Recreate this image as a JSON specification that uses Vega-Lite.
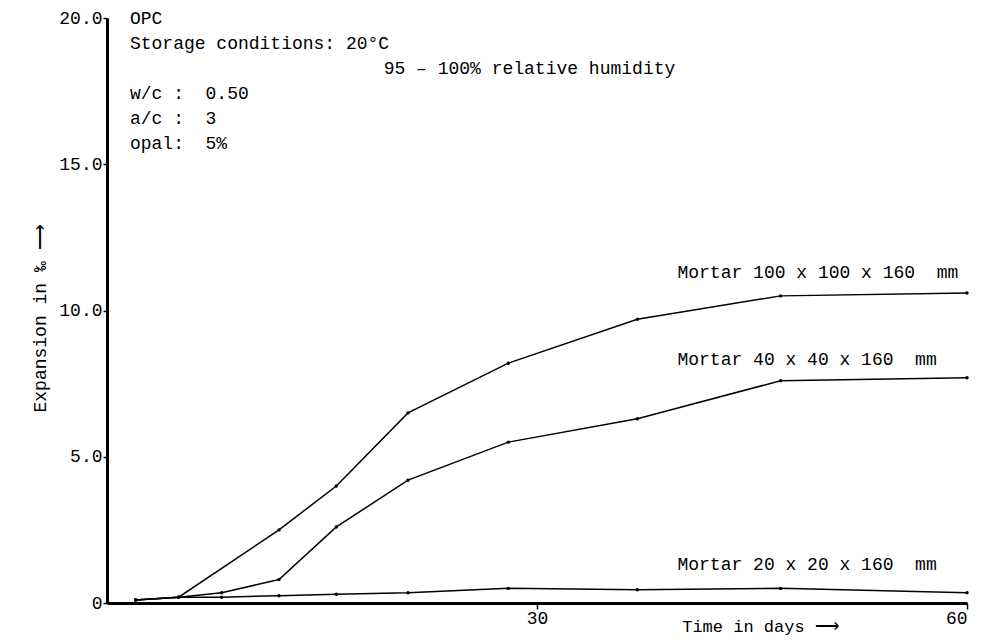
{
  "$schema": "https://vega.github.io/schema/vega-lite/v6.json",
  "width": 860,
  "height": 585,
  "autosize": {"type": "none"},
  "padding": {"left": 107, "top": 18, "right": 39, "bottom": 40},
  "background": "white",
  "config": {
    "view": {"stroke": null},
    "font": "Liberation Mono",
    "axis": {
      "grid": false,
      "domainColor": "black",
      "domainWidth": 3,
      "tickColor": "black",
      "tickWidth": 1.5,
      "labelColor": "black",
      "labelFont": "Liberation Mono",
      "labelFontSize": 18,
      "titleFont": "Liberation Mono",
      "titleFontSize": 18,
      "titleFontWeight": "normal",
      "titleColor": "black"
    }
  },
  "datasets": {
    "series": [
      {"specimen": "100x100x160", "day": 2, "expansion": 0.1},
      {"specimen": "100x100x160", "day": 5, "expansion": 0.2},
      {"specimen": "100x100x160", "day": 12, "expansion": 2.5},
      {"specimen": "100x100x160", "day": 16, "expansion": 4.0},
      {"specimen": "100x100x160", "day": 21, "expansion": 6.5},
      {"specimen": "100x100x160", "day": 28, "expansion": 8.2},
      {"specimen": "100x100x160", "day": 37, "expansion": 9.7},
      {"specimen": "100x100x160", "day": 47, "expansion": 10.5},
      {"specimen": "100x100x160", "day": 60, "expansion": 10.6},
      {"specimen": "40x40x160", "day": 2, "expansion": 0.1},
      {"specimen": "40x40x160", "day": 5, "expansion": 0.2},
      {"specimen": "40x40x160", "day": 8, "expansion": 0.35},
      {"specimen": "40x40x160", "day": 12, "expansion": 0.8},
      {"specimen": "40x40x160", "day": 16, "expansion": 2.6},
      {"specimen": "40x40x160", "day": 21, "expansion": 4.2},
      {"specimen": "40x40x160", "day": 28, "expansion": 5.5},
      {"specimen": "40x40x160", "day": 37, "expansion": 6.3},
      {"specimen": "40x40x160", "day": 47, "expansion": 7.6},
      {"specimen": "40x40x160", "day": 60, "expansion": 7.7},
      {"specimen": "20x20x160", "day": 2, "expansion": 0.1},
      {"specimen": "20x20x160", "day": 5, "expansion": 0.2},
      {"specimen": "20x20x160", "day": 8, "expansion": 0.2},
      {"specimen": "20x20x160", "day": 12, "expansion": 0.25},
      {"specimen": "20x20x160", "day": 16, "expansion": 0.3},
      {"specimen": "20x20x160", "day": 21, "expansion": 0.35},
      {"specimen": "20x20x160", "day": 28, "expansion": 0.5},
      {"specimen": "20x20x160", "day": 37, "expansion": 0.45},
      {"specimen": "20x20x160", "day": 47, "expansion": 0.5},
      {"specimen": "20x20x160", "day": 60, "expansion": 0.35}
    ],
    "notes": [
      {"label": "OPC", "day": 1.6, "expansion": 19.97},
      {"label": "Storage conditions: 20°C", "day": 1.6, "expansion": 19.11},
      {"label": "95 – 100% relative humidity", "day": 19.3, "expansion": 18.26},
      {"label": "w/c :\u00a0\u00a00.50", "day": 1.6, "expansion": 17.4},
      {"label": "a/c :\u00a0\u00a03", "day": 1.6, "expansion": 16.55},
      {"label": "opal:\u00a0\u00a05%", "day": 1.6, "expansion": 15.69},
      {"label": "Mortar 100 x 100 x 160\u00a0\u00a0mm", "day": 39.8, "expansion": 11.28},
      {"label": "Mortar 40 x 40 x 160\u00a0\u00a0mm", "day": 39.8, "expansion": 8.31},
      {"label": "Mortar 20 x 20 x 160\u00a0\u00a0mm", "day": 39.8, "expansion": 1.3}
    ]
  },
  "layer": [
    {
      "data": {"name": "series"},
      "mark": {"type": "line", "color": "black", "strokeWidth": 1.5},
      "encoding": {
        "x": {
          "field": "day",
          "type": "quantitative",
          "scale": {"domain": [0, 60], "nice": false, "zero": true},
          "axis": {
            "values": [30, 60],
            "tickSize": 6,
            "labelPadding": 0,
            "title": "Time in days ⟶",
            "titleX": 653,
            "titleY": 23,
            "titleAlign": "center",
            "titleBaseline": "middle",
            "titleFontSize": 17
          }
        },
        "y": {
          "field": "expansion",
          "type": "quantitative",
          "scale": {"domain": [0, 20], "nice": false},
          "axis": {
            "values": [0, 5, 10, 15, 20],
            "labelExpr": "datum.value == 0 ? '0' : format(datum.value, '.1f')",
            "tickSize": 4,
            "labelPadding": 1,
            "title": "Expansion in ‰ ⟶",
            "titleX": -67,
            "titleY": 300,
            "titleAlign": "center",
            "titleBaseline": "middle",
            "titleAngle": -90
          }
        },
        "detail": {"field": "specimen"}
      }
    },
    {
      "data": {"name": "series"},
      "mark": {"type": "point", "filled": true, "color": "black", "size": 12, "opacity": 1},
      "encoding": {
        "x": {"field": "day", "type": "quantitative"},
        "y": {"field": "expansion", "type": "quantitative"}
      }
    },
    {
      "data": {"name": "notes"},
      "mark": {"type": "text", "align": "left", "baseline": "middle", "fontSize": 18, "font": "Liberation Mono", "color": "black"},
      "encoding": {
        "x": {"field": "day", "type": "quantitative"},
        "y": {"field": "expansion", "type": "quantitative"},
        "text": {"field": "label"}
      }
    }
  ]
}
